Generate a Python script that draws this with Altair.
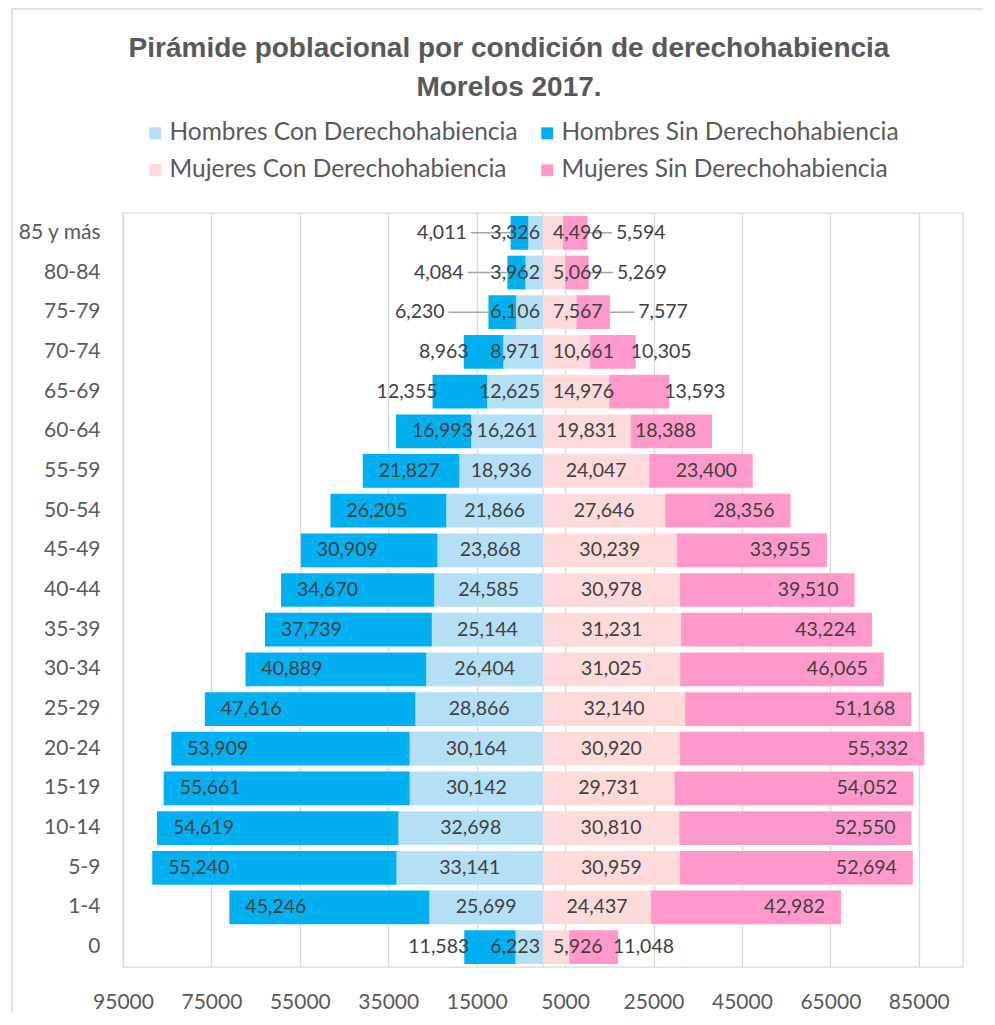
import altair as alt
import pandas as pd

ages = ["0", "1-4", "5-9", "10-14", "15-19", "20-24", "25-29", "30-34", "35-39",
        "40-44", "45-49", "50-54", "55-59", "60-64", "65-69", "70-74", "75-79",
        "80-84", "85 y más"]
hombres_con = [6223, 25699, 33141, 32698, 30142, 30164, 28866, 26404, 25144, 24585,
               23868, 21866, 18936, 16261, 12625, 8971, 6106, 3962, 3326]
hombres_sin = [11583, 45246, 55240, 54619, 55661, 53909, 47616, 40889, 37739, 34670,
               30909, 26205, 21827, 16993, 12355, 8963, 6230, 4084, 4011]
mujeres_con = [5926, 24437, 30959, 30810, 29731, 30920, 32140, 31025, 31231, 30978,
               30239, 27646, 24047, 19831, 14976, 10661, 7567, 5069, 4496]
mujeres_sin = [11048, 42982, 52694, 52550, 54052, 55332, 51168, 46065, 43224, 39510,
               33955, 28356, 23400, 18388, 13593, 10305, 7577, 5269, 5594]

series = ["Hombres Con Derechohabiencia", "Hombres Sin Derechohabiencia",
          "Mujeres Con Derechohabiencia", "Mujeres Sin Derechohabiencia"]
colors = ["#B4DFF5", "#00B0F0", "#FFDADA", "#FF99CC"]
x_ticks = [-95000, -75000, -55000, -35000, -15000, 5000, 25000, 45000, 65000, 85000]
title_lines = ["Pirámide poblacional por condición de derechohabiencia", "Morelos 2017."]

rows = []
for i, age in enumerate(ages):
    hc, hs, mc, ms = hombres_con[i], hombres_sin[i], mujeres_con[i], mujeres_sin[i]
    rows.append(dict(age=age, serie=series[0], sexo="H", cond="Con", value=hc, start=0, end=-hc))
    rows.append(dict(age=age, serie=series[1], sexo="H", cond="Sin", value=hs, start=-hc, end=-(hc + hs)))
    rows.append(dict(age=age, serie=series[2], sexo="M", cond="Con", value=mc, start=0, end=mc))
    rows.append(dict(age=age, serie=series[3], sexo="M", cond="Sin", value=ms, start=mc, end=mc + ms))
df = pd.DataFrame(rows)
df["label"] = df["value"].map(lambda v: f"{v:,}")
df["mid"] = (df["start"] + df["end"]) / 2

def lab_pos(r):
    if r["cond"] == "Sin" and r["value"] < 8000:
        return r["end"] - 9000 if r["sexo"] == "H" else r["end"] + 5500
    return r["end"]

df["labx"] = df.apply(lab_pos, axis=1)
df["zero"] = 0

FONT = "Lato"
AGE_SORT = list(reversed(ages))
y_enc = alt.Y("age:N", sort=AGE_SORT,
              scale=alt.Scale(paddingInner=0.15, paddingOuter=0.075),
              axis=alt.Axis(title=None, ticks=False, domain=False, grid=False,
                            labelFont=FONT, labelFontSize=21, labelColor="#595959",
                            labelPadding=23))
x_scale = alt.Scale(domain=[-95000, 95000], nice=False, zero=False)

base = alt.Chart(df)

center_line = alt.Chart(pd.DataFrame({"z": [0]})).mark_rule(
    color="#D9D9D9", strokeWidth=1.3).encode(
    x=alt.X("z:Q", scale=x_scale, title=None,
            axis=alt.Axis(values=x_ticks, labelExpr="format(abs(datum.value),'d')",
                          title=None, ticks=False, domain=False, grid=True,
                          gridColor="#D9D9D9", gridWidth=1.3, labelFont=FONT,
                          labelFontSize=21, labelColor="#595959", labelPadding=24,
                          labelOverlap=False, labelFlush=False, labelBound=False)))

bars = base.mark_bar().encode(
    x=alt.X("start:Q", scale=x_scale, title=None),
    x2="end:Q",
    y=y_enc,
    color=alt.Color("serie:N", scale=alt.Scale(domain=series, range=colors),
                    legend=alt.Legend(orient="none", legendX=20, legendY=-92, columns=2,
                                      title=None, symbolType="square", symbolSize=144,
                                      symbolStrokeWidth=0, labelFont=FONT, labelFontSize=24.5,
                                      labelColor="#595959", labelLimit=600,
                                      columnPadding=17, rowPadding=12, labelOffset=2,
                                      padding=0, direction="horizontal")))

tstyle = dict(font=FONT, fontSize=19.5, color="#404040", baseline="middle")

def txt(filt, field, **kw):
    return base.transform_filter(filt).mark_text(**tstyle, **kw).encode(
        x=alt.X(f"{field}:Q", title=None), y=alt.Y("age:N", sort=AGE_SORT), text="label:N")

con_center = txt("(datum.cond=='Con' && datum.sexo=='H' && datum.value>=14000) || "
                 "(datum.cond=='Con' && datum.sexo=='M' && datum.value>=16000)",
                 "mid", align="center")
h_con_small = txt("datum.cond=='Con' && datum.sexo=='H' && datum.value<14000",
                  "zero", align="right", dx=-3)
m_con_small = txt("datum.cond=='Con' && datum.sexo=='M' && datum.value<16000",
                  "zero", align="left", dx=10)
h_sin_in = txt("datum.cond=='Sin' && datum.sexo=='H' && datum.value>=16000",
               "end", align="left", dx=16)
m_sin_in = txt("datum.cond=='Sin' && datum.sexo=='M' && datum.value>=16000",
               "end", align="right", dx=-16)
h_sin_out = txt("datum.cond=='Sin' && datum.sexo=='H' && datum.value>=8000 && datum.value<16000",
                "end", align="right", dx=5)
m_sin_out = txt("datum.cond=='Sin' && datum.sexo=='M' && datum.value>=8000 && datum.value<16000",
                "end", align="left", dx=-5)
h_sin_lead = txt("datum.cond=='Sin' && datum.sexo=='H' && datum.value<8000",
                 "labx", align="right", dx=-4)
m_sin_lead = txt("datum.cond=='Sin' && datum.sexo=='M' && datum.value<8000",
                 "labx", align="left", dx=4)

leaders = base.transform_filter(
    "datum.cond=='Sin' && datum.value<8000"
).mark_rule(color="#A6A6A6", strokeWidth=1.5).encode(
    x=alt.X("end:Q", title=None), x2="labx:Q",
    y=alt.Y("age:N", sort=AGE_SORT))

border = alt.Chart(pd.DataFrame({"b": [0]})).mark_rect(
    fillOpacity=0, stroke="#D9D9D9", strokeWidth=1.5).encode(
    x=alt.value(-111), x2=alt.value(1000), y=alt.value(-204), y2=alt.value(1000))

chart = alt.layer(
    center_line, bars, leaders, con_center, h_con_small, m_con_small,
    h_sin_in, m_sin_in, h_sin_out, m_sin_out, h_sin_lead, m_sin_lead, border
).properties(
    width=840, height=754,
    autosize=alt.AutoSizeParams(type="none"),
    padding={"left": 115, "top": 205, "right": 20, "bottom": 45},
    title=alt.TitleParams(text=title_lines, font="Liberation Sans", fontSize=28,
                          fontWeight="bold", color="#595959", anchor="middle",
                          dx=-34, dy=98, lineHeight=39),
).configure_view(stroke="#D9D9D9", strokeWidth=1.3)

chart.save("out.html", embed_options={"renderer": "svg", "actions": False})
